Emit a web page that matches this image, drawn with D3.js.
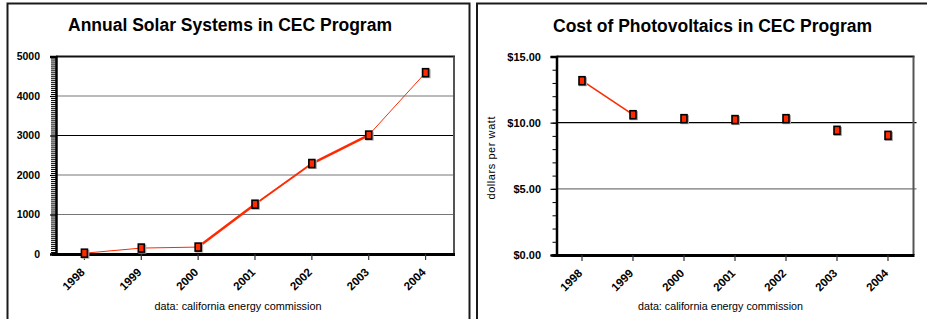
<!DOCTYPE html>
<html>
<head>
<meta charset="utf-8">
<script src="https://cdn.jsdelivr.net/npm/d3@7"></script>
<style>
  body { margin: 0; background: #fff; }
  svg { display: block; font-family: "Liberation Sans", Arial, sans-serif; }
  .tick text { font-weight: bold; fill: #000; }
</style>
</head>
<body>
<svg id="chart" width="927" height="319"></svg>
<script>
// data
const YEARS = ['1998', '1999', '2000', '2001', '2002', '2003', '2004'];
const SYSTEMS = [20, 150, 175, 1260, 2290, 3010, 4590];
const COST = [13.17, 10.6, 10.3, 10.23, 10.3, 9.42, 9.04];
const SYSTEMS_TICKS = [0, 1000, 2000, 3000, 4000, 5000];
const COST_TICKS = [0, 5, 10, 15];

// per-segment line widths (0 = not drawn)
const SYS_SEG_W = [1, 1, 2.5, 2, 2.5, 1];
const COST_SEG_W = [1.5, 0, 0, 0, 0, 0];

const RED = '#ff2a00';
const svg = d3.select('#chart');

// outer panel frames
svg.append('rect').attr('x', 7.5).attr('y', 3.5).attr('width', 462).attr('height', 330)
  .attr('fill', 'none').attr('stroke', '#1a1a1a').attr('stroke-width', 2);
svg.append('rect').attr('x', 477).attr('y', 3.5).attr('width', 470).attr('height', 330)
  .attr('fill', 'none').attr('stroke', '#1a1a1a').attr('stroke-width', 2);

function drawPanel(opts) {
  const { left, right, top, bottom, values, domain, ticks, minorStep, fmt, segW, gridColors } = opts;
  const g = svg.append('g');

  const x = d3.scaleBand().domain(YEARS).range([left, right]);
  const y = d3.scaleLinear().domain(domain).range([bottom, top]);

  // title
  g.append('text')
    .attr('x', opts.titleX).attr('y', opts.titleY)
    .attr('text-anchor', 'middle')
    .attr('font-size', 17.5).attr('font-weight', 'bold')
    .attr('textLength', opts.titleLen).attr('lengthAdjust', 'spacingAndGlyphs')
    .text(opts.title);

  // gridlines
  ticks.forEach((t, i) => {
    if (t === domain[0] || t === domain[1]) return;
    g.append('line')
      .attr('x1', left).attr('x2', right + opts.gridOver)
      .attr('y1', y(t)).attr('y2', y(t))
      .attr('stroke', gridColors[i]).attr('stroke-width', 1.2);
  });

  // plot frame: top (black) and right (gray)
  g.append('line').attr('x1', left).attr('x2', right + 1).attr('y1', top).attr('y2', top)
    .attr('stroke', '#111').attr('stroke-width', 2);
  g.append('line').attr('x1', right).attr('x2', right).attr('y1', top).attr('y2', bottom)
    .attr('stroke', '#555').attr('stroke-width', 2);

  // minor y ticks
  const minor = d3.range(domain[0], domain[1] + minorStep / 2, minorStep);
  g.append('g')
    .attr('transform', `translate(${left},0)`)
    .call(d3.axisLeft(y).tickValues(minor).tickSize(opts.minorLen).tickFormat(''))
    .call(a => a.select('.domain').remove())
    .selectAll('line').attr('stroke', '#000').attr('stroke-width', 1);

  // major y axis
  g.append('g')
    .attr('transform', `translate(${left},0)`)
    .call(d3.axisLeft(y).tickValues(ticks).tickSize(6).tickPadding(opts.labelPad).tickFormat(fmt))
    .call(a => a.select('.domain').attr('stroke', '#000').attr('stroke-width', 2.5))
    .call(a => a.selectAll('line').attr('stroke', '#000').attr('stroke-width', 1.2))
    .call(a => a.selectAll('text').attr('font-size', opts.yFont));

  // x axis
  const xa = g.append('g')
    .attr('transform', `translate(0,${bottom})`)
    .call(d3.axisBottom(x).tickSize(6).tickSizeOuter(0))
    .call(a => a.select('.domain').attr('stroke', '#000').attr('stroke-width', 3)
      .attr('d', `M${left - 4},0.5H${right + 1}`))
    .call(a => a.selectAll('line').attr('stroke', '#333').attr('stroke-width', 1.2));
  xa.selectAll('.tick text')
    .attr('text-anchor', 'end')
    .attr('font-size', 11.5)
    .attr('y', 0).attr('dy', 0)
    .attr('transform', 'translate(1,19) rotate(-45)');

  // footer
  g.append('text')
    .attr('x', opts.footX).attr('y', 310)
    .attr('text-anchor', 'middle').attr('font-size', 10.5)
    .attr('textLength', opts.footLen).attr('lengthAdjust', 'spacingAndGlyphs')
    .text('data: california energy commission');

  // line segments
  const cx = i => x(YEARS[i]) + x.bandwidth() / 2;
  segW.forEach((w, i) => {
    if (!w) return;
    g.append('line')
      .attr('x1', cx(i)).attr('y1', y(values[i]))
      .attr('x2', cx(i + 1)).attr('y2', y(values[i + 1]))
      .attr('stroke', RED).attr('stroke-width', w);
  });

  // markers
  const mk = g.selectAll('.mk').data(values).enter().append('g').attr('class', 'mk')
    .attr('transform', (d, i) => `translate(${cx(i)},${y(d)})`);
  mk.append('rect').attr('x', -3).attr('y', -3.5).attr('width', 8).attr('height', 9)
    .attr('fill', '#aaa');
  mk.append('rect').attr('x', -3).attr('y', -4).attr('width', 6).attr('height', 8)
    .attr('fill', RED).attr('stroke', '#000').attr('stroke-width', 1.6);

  return g;
}

drawPanel({
  left: 56, right: 454, top: 56.5, bottom: 254,
  values: SYSTEMS, domain: [0, 5000], ticks: SYSTEMS_TICKS, minorStep: 50,
  fmt: d3.format('d'), segW: SYS_SEG_W,
  gridColors: ['#000', '#777', '#777', '#000', '#777', '#000'],
  gridOver: 1, minorLen: 5, labelPad: 10, yFont: 10.5,
  title: 'Annual Solar Systems in CEC Program', titleX: 230, titleY: 31, titleLen: 324,
  footX: 238, footLen: 167
});

const right = drawPanel({
  left: 556.5, right: 913.5, top: 56.5, bottom: 255,
  values: COST, domain: [0, 15], ticks: COST_TICKS, minorStep: 1,
  fmt: d3.format('$.2f'), segW: COST_SEG_W,
  gridColors: ['#000', '#777', '#000', '#000'],
  gridOver: 3, minorLen: 4, labelPad: 9.5, yFont: 11,
  title: 'Cost of Photovoltaics in CEC Program', titleX: 712.5, titleY: 32, titleLen: 319,
  footX: 720.5, footLen: 165
});

right.append('text')
  .attr('transform', 'translate(495,158) rotate(-90)')
  .attr('text-anchor', 'middle').attr('font-size', 11)
  .attr('textLength', 83).attr('lengthAdjust', 'spacing')
  .text('dollars per watt');
</script>
</body>
</html>
